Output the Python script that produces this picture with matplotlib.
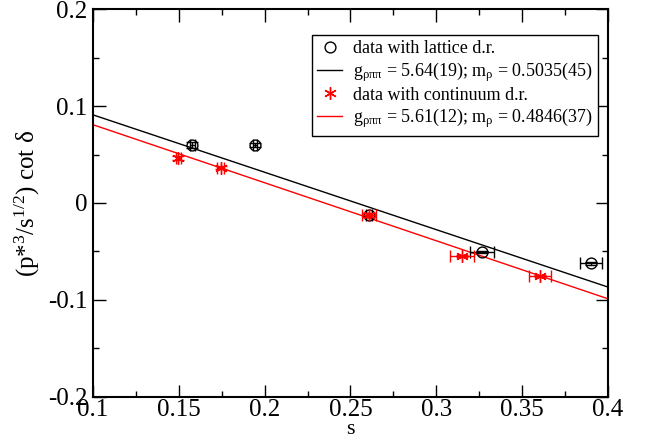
import matplotlib
matplotlib.use("Agg")
import matplotlib.pyplot as plt
from matplotlib.ticker import MultipleLocator
from matplotlib.lines import Line2D

plt.rcParams['font.family'] = ['Liberation Serif', 'DejaVu Serif']
plt.rcParams['mathtext.fontset'] = 'custom'
plt.rcParams['mathtext.rm'] = 'Liberation Serif'
plt.rcParams['mathtext.it'] = 'Liberation Serif'
plt.rcParams['mathtext.bf'] = 'Liberation Serif:bold'

# lattice dispersion relation data
lat_s = [0.1578, 0.1944, 0.2608, 0.3264, 0.3899]
lat_v = [0.0599, 0.0599, -0.0124, -0.0506, -0.0623]
lat_sx = [0.0015, 0.0012, 0.0020, 0.0070, 0.0064]
lat_vy = [0.0030, 0.0025, 0.0020, 0.0015, 0.0015]

# continuum dispersion relation data
con_s = [0.1497, 0.1744, 0.2608, 0.3148, 0.3604]
con_v = [0.0468, 0.0365, -0.0124, -0.0547, -0.0754]
con_sx = [0.0015, 0.0020, 0.0040, 0.0070, 0.0064]
con_vy = [0.0020, 0.0015, 0.0020, 0.0015, 0.0015]

# fit lines (endpoints read at s = 0.1 and 0.4)
fit_s = [0.1, 0.4]
fit_lat = [0.0910, -0.0868]
fit_con = [0.0808, -0.0989]

xticks = [0.1, 0.15, 0.2, 0.25, 0.3, 0.35, 0.4]
xticklabels = ['0.1', '0.15', '0.2', '0.25', '0.3', '0.35', '0.4']
yticks = [-0.2, -0.1, 0, 0.1, 0.2]
yticklabels = ['-0.2', '-0.1', '0', '0.1', '0.2']

labels = ['data with lattice d.r.',
          r'g$_{\rho\pi\pi}$ = 5.64(19); m$_\rho$ = 0.5035(45)',
          'data with continuum d.r.',
          r'g$_{\rho\pi\pi}$ = 5.61(12); m$_\rho$ = 0.4846(37)']

fig = plt.figure(figsize=(6.52, 4.41), dpi=100)
ax = fig.add_axes([0.1426, 0.1004, 0.7899, 0.8786])

ax.errorbar(lat_s, lat_v, xerr=lat_sx, yerr=lat_vy, fmt='o', ms=7.8,
            mfc='none', mec='black', mew=1.0, ecolor='black', elinewidth=1.0,
            capsize=4, capthick=1.0, zorder=3)
l1, = ax.plot(fit_s, fit_lat, color='black', lw=1.0, zorder=2)
ax.errorbar(con_s, con_v, xerr=con_sx, yerr=con_vy, fmt='none',
            ecolor='red', elinewidth=1.0, capsize=4, capthick=1.0, zorder=4)
ax.plot(con_s, con_v, linestyle='none', marker=(6, 2, 0), ms=9,
        mec='red', mew=1.0, zorder=5)
l2, = ax.plot(fit_s, fit_con, color='red', lw=1.0, zorder=2)

ax.set_xlim(0.1, 0.4)
ax.set_ylim(-0.2, 0.2)
ax.set_xticks(xticks)
ax.set_xticklabels(xticklabels)
ax.set_yticks(yticks)
ax.set_yticklabels(yticklabels)
ax.xaxis.set_minor_locator(MultipleLocator(0.025))
ax.yaxis.set_minor_locator(MultipleLocator(0.05))
ax.tick_params(which='both', direction='in', top=True, right=True, labelsize=18, width=1.0)
ax.tick_params(which='major', length=9)
ax.tick_params(axis='x', which='major', pad=1.5)
ax.tick_params(axis='y', which='major', pad=4)
ax.tick_params(which='minor', length=4.5)
for sp in ax.spines.values():
    sp.set_linewidth(1.5)

ax.set_xlabel('s', fontsize=16, labelpad=-0.5)
ax.set_ylabel(r'(p*$^{3}$/s$^{1/2}$) cot $\delta$', fontsize=18, labelpad=4)

hc = Line2D([], [], linestyle='none', marker='o', ms=7.8, mfc='none', mec='black', mew=1.0)
hs = Line2D([], [], linestyle='none', marker=(6, 2, 0), ms=9, mec='red', mew=1.0)
leg = ax.legend([hc, l1, hs, l2], labels, loc='upper right',
                bbox_to_anchor=(0.981, 0.934), fontsize=13, frameon=True,
                fancybox=False, edgecolor='black', framealpha=1,
                handlelength=1.4, handletextpad=0.6, borderpad=0.3,
                labelspacing=0.15, borderaxespad=0)
leg.get_frame().set_linewidth(1.0)

fig.savefig('out.png', dpi=100)
